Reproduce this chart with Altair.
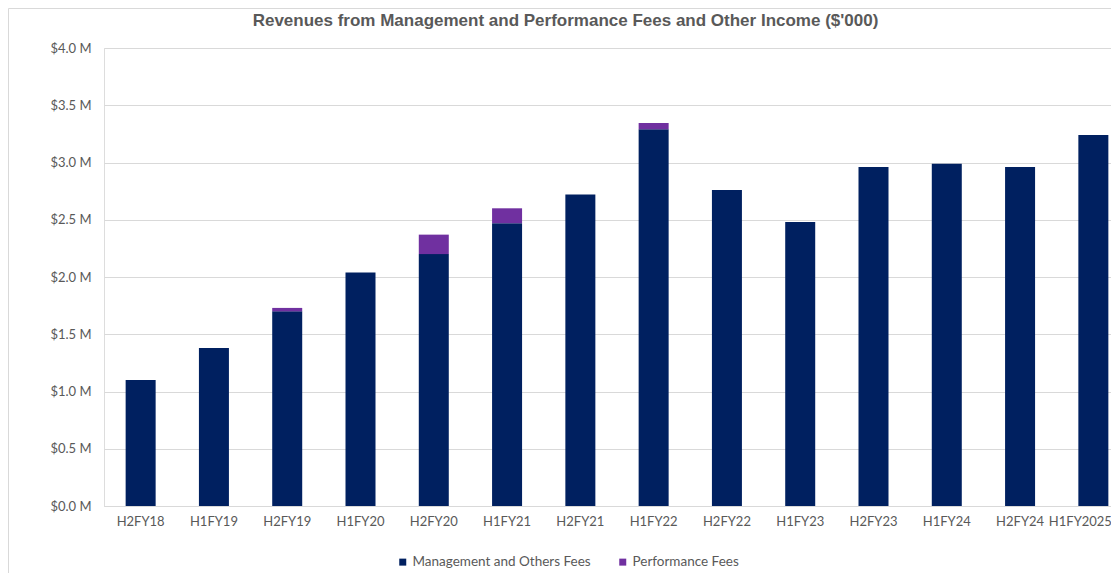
import altair as alt
import pandas as pd

periods = ["H2FY18", "H1FY19", "H2FY19", "H1FY20", "H2FY20", "H1FY21", "H2FY21",
           "H1FY22", "H2FY22", "H1FY23", "H2FY23", "H1FY24", "H2FY24", "H1FY2025"]
mgmt_fees = [1.10, 1.38, 1.70, 2.04, 2.20, 2.47, 2.72, 3.29, 2.76, 2.48, 2.96, 2.99, 2.96, 3.24]
perf_fees = [0.0, 0.0, 0.03, 0.0, 0.17, 0.13, 0.0, 0.055, 0.0, 0.0, 0.0, 0.0, 0.0, 0.0]
series = ["Management and Others Fees", "Performance Fees"]
colors = ["#002060", "#7030A0"]
y_ticks = [0, 0.5, 1.0, 1.5, 2.0, 2.5, 3.0, 3.5, 4.0]

rows = []
for p, m, f in zip(periods, mgmt_fees, perf_fees):
    rows.append({"period": p, "series": series[0], "value": m, "ord": 0})
    rows.append({"period": p, "series": series[1], "value": f, "ord": 1})
df = pd.DataFrame(rows)

FONT = "Lato"
GREY = "#595959"

bars = alt.Chart(df).mark_bar(size=30).encode(
    x=alt.X("period:N", sort=periods, title=None,
            scale=alt.Scale(paddingInner=0.59, paddingOuter=0.295, range=[0, 1026]),
            axis=alt.Axis(labelAngle=0, labelFont=FONT, labelFontSize=13,
                          labelColor=GREY, labelPadding=9, ticks=False,
                          labelOffset={"condition": {"test": "datum.value == 'H1FY2025'", "value": -13},
                                       "value": 0},
                          domainColor="#d9d9d9", grid=False)),
    y=alt.Y("value:Q", stack="zero", title=None,
            scale=alt.Scale(domain=[0, 4], nice=False),
            axis=alt.Axis(values=y_ticks, labelExpr="'$' + format(datum.value, '.1f') + ' M'",
                          labelFont=FONT, labelFontSize=13, labelColor=GREY,
                          labelPadding=13, ticks=False, domain=False,
                          gridColor="#d9d9d9", gridWidth=1)),
    color=alt.Color("series:N", scale=alt.Scale(domain=series, range=colors),
                    legend=alt.Legend(title=None, orient="none", direction="horizontal",
                                      legendX=292, legendY=507, symbolType="square",
                                      symbolSize=49, symbolStrokeWidth=0,
                                      labelFont=FONT, labelFontSize=13.5, labelColor=GREY,
                                      labelLimit=400, labelOffset=3, columnPadding=25)),
    order=alt.Order("ord:Q"),
)

frame_df = pd.DataFrame({"k": [0]})
border_color = "#d9d9d9"
frame = alt.Chart(frame_df).mark_rule(color=border_color, strokeWidth=1).encode(
    x=alt.value(-95.5), x2=alt.value(-95.5), y=alt.value(-39.5), y2=alt.value(530.5))
frame_top = alt.Chart(frame_df).mark_rule(color=border_color, strokeWidth=1).encode(
    x=alt.value(-95.5), x2=alt.value(1030), y=alt.value(-39.5), y2=alt.value(-39.5))
frame_bot = alt.Chart(frame_df).mark_rule(color=border_color, strokeWidth=1).encode(
    x=alt.value(-95.5), x2=alt.value(1030), y=alt.value(530.5), y2=alt.value(530.5))

chart = alt.layer(frame, frame_top, frame_bot, bars).properties(
    width=1007, height=458,
    title=alt.TitleParams(
        "Revenues from Management and Performance Fees and Other Income ($'000)",
        font="Liberation Sans", fontSize=17, fontWeight="bold", color=GREY,
        anchor="middle", dx=-42, dy=26),
    autosize=alt.AutoSizeParams(type="none"),
    padding={"left": 96, "top": 40, "right": 0, "bottom": 67},
).configure_view(stroke=None).configure(background="white")

chart.save("out.html", embed_options={"renderer": "svg", "actions": False})
